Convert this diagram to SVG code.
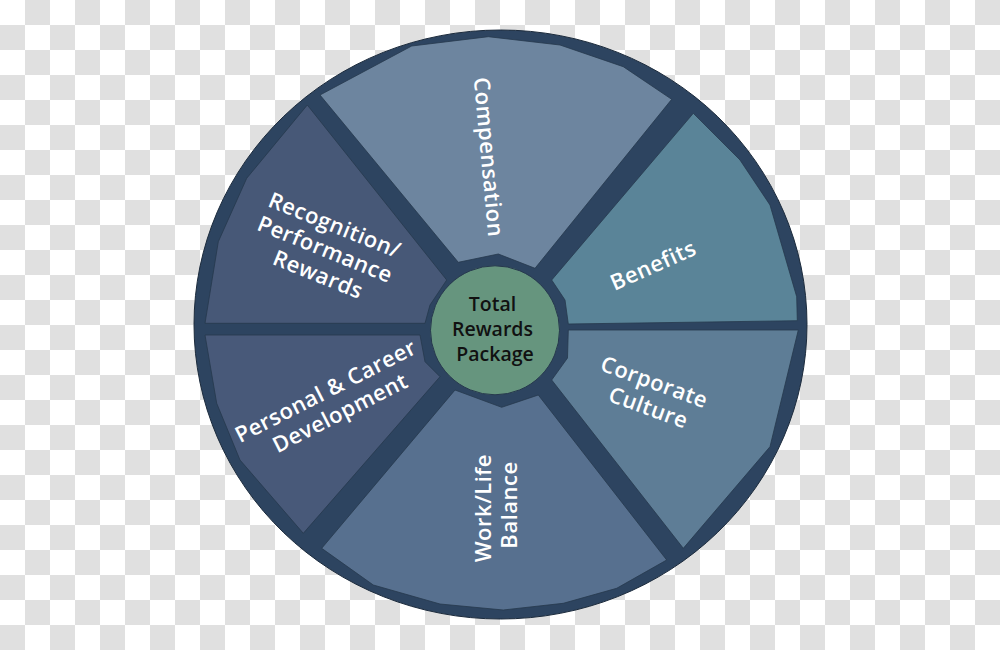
<svg xmlns="http://www.w3.org/2000/svg" width="1000" height="650" viewBox="0 0 1000 650">
  <defs>
    <pattern id="checker" x="0" y="0" width="50" height="50" patternUnits="userSpaceOnUse">
      <rect x="0" y="0" width="50" height="50" fill="#ffffff"/>
      <rect x="25" y="0" width="25" height="25" fill="#e0e0e0"/>
      <rect x="0" y="25" width="25" height="25" fill="#e0e0e0"/>
    </pattern>
    <style>
      .seg { stroke: #26384d; stroke-width: 0.8; stroke-linejoin: round; }
      .lbl { font-family: "Open Sans", "Noto Sans", "Liberation Sans", sans-serif; font-size: 22px; font-weight: 600; fill: #ffffff; text-anchor: middle; letter-spacing: 0.5px; }
      .hub { font-family: "Open Sans", "Noto Sans", "Liberation Sans", sans-serif; font-size: 19.5px; font-weight: 600; fill: #111111; text-anchor: middle; }
    </style>
  </defs>
  <rect x="0" y="0" width="1000" height="650" fill="url(#checker)"/>

  <g id="wheel">
    <ellipse cx="500.5" cy="324.5" rx="306.5" ry="294.5" fill="#2d4460" stroke="#1c2b3c" stroke-width="1"/>
  </g>

  <g id="compensation">
    <polygon class="seg" fill="#6d859f" points="320,95 411.7,46 488.3,36.7 560,45 623.3,66.7 671.7,99.3 535,268.3 498.3,254 458.3,262.3"/>
    <text class="lbl" transform="translate(489,157) rotate(84.7)" x="0" y="8">Compensation</text>
  </g>

  <g id="benefits">
    <polygon class="seg" fill="#5a8498" points="693.3,113.3 740,160 770,205 796.7,296.7 797.3,320.7 568.3,324 565,300 551.7,280"/>
    <text class="lbl" transform="translate(653,265) rotate(-24)" x="0" y="8">Benefits</text>
  </g>

  <g id="corporate-culture">
    <polygon class="seg" fill="#5e7d96" points="568.3,330 798.3,330 770,446.7 683.3,548.3 551.7,380 567.5,358"/>
    <text class="lbl" transform="translate(653,395) rotate(20)">
      <tspan x="0" y="-5">Corporate</tspan>
      <tspan x="0" y="21">Culture</tspan>
    </text>
  </g>

  <g id="work-life-balance">
    <polygon class="seg" fill="#57708f" points="455,390 501.7,407.3 538.3,395 666.7,560 616.7,588.3 563.3,603.3 503.3,610 440,604 373.3,585 321.7,548.3"/>
    <text class="lbl" transform="translate(496,505) rotate(-90)">
      <tspan x="0" y="-5">Work/Life</tspan>
      <tspan x="0" y="21">Balance</tspan>
    </text>
  </g>

  <g id="personal-career-development">
    <polygon class="seg" fill="#485979" points="205,335 420,335 425,361.7 440,376.7 303.3,533.3 240,460 216.7,403.3"/>
    <text class="lbl" transform="translate(334,401) rotate(-27)">
      <tspan x="0" y="-5">Personal &amp; Career</tspan>
      <tspan x="0" y="21">Development</tspan>
    </text>
  </g>

  <g id="recognition-performance-rewards">
    <polygon class="seg" fill="#475877" points="307.3,105 246.7,178.3 218.3,241.7 205,323.3 425,323.3 430,305 446.7,280"/>
    <text class="lbl" transform="translate(328,250) rotate(22)">
      <tspan x="0" y="-18">Recognition/</tspan>
      <tspan x="0" y="8">Performance</tspan>
      <tspan x="0" y="34">Rewards</tspan>
    </text>
  </g>

  <g id="total-rewards-package">
    <circle cx="495" cy="330.3" r="64.5" fill="#66957e" stroke="#26384d" stroke-width="1"/>
    <text class="hub">
      <tspan x="495" y="311">Total</tspan>
      <tspan x="495" y="336">Rewards</tspan>
      <tspan x="495" y="361">Package</tspan>
    </text>
  </g>

  <g id="connectors"></g>
</svg>
